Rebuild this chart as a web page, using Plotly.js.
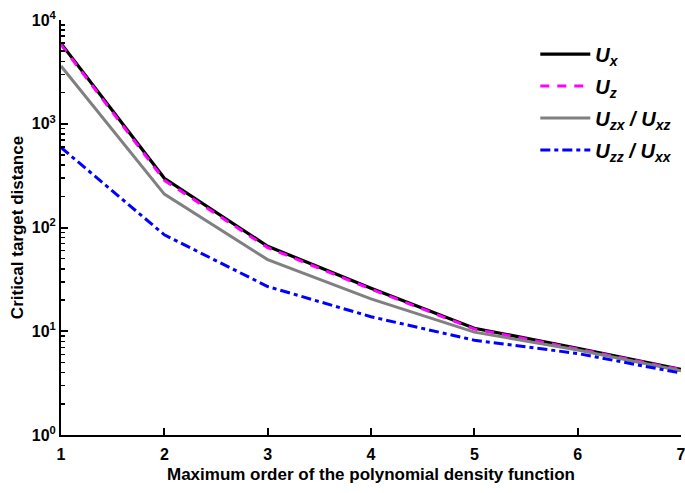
<!DOCTYPE html>
<html>
<head>
<meta charset="utf-8">
<script src="https://cdn.plot.ly/plotly-3.0.1.min.js"></script>
<style>html,body{margin:0;padding:0;background:#fff;}#chart{width:685px;height:493px;}</style>
</head>
<body>
<div id="chart"></div>
<script>
var orders = [1, 2, 3, 4, 5, 6, 7];
var Ux   = [5950, 298, 66, 26, 10.7, 6.85, 4.3];
var Uz   = [5800, 285, 64, 25.5, 10.5, 6.75, 4.25];
var Uzx  = [3600, 210, 49, 20.5, 9.8, 6.6, 4.15];
var Uzz  = [590, 85, 27, 13.8, 8.2, 6.1, 3.95];
var yTickVals = [1, 10, 100, 1000, 10000];
var yTickText = ['10<sup>0</sup>', '10<sup>1</sup>', '10<sup>2</sup>', '10<sup>3</sup>', '10<sup>4</sup>'];
var names = ['<i>U<sub>x</sub></i>', '<i>U<sub>z</sub></i>', '<i>U<sub>zx</sub> / U<sub>xz</sub></i>', '<i>U<sub>zz</sub> / U<sub>xx</sub></i>'];

var F = 'Liberation Sans, Arial, sans-serif';
var traces = [
  {x: orders, y: Ux, name: names[0], legendgroup: 'a', mode: 'lines', line: {color: '#000000', width: 3.2}},
  {x: orders, y: Uz, name: names[1], legendgroup: 'b', mode: 'lines', line: {color: '#FF00FF', width: 3, dash: '9px,8px'}},
  {x: orders, y: Uzx, name: names[2], legendgroup: 'c', mode: 'lines', line: {color: '#808080', width: 3}},
  {x: orders, y: Uzz, name: names[3], legendgroup: 'd', mode: 'lines', line: {color: '#0000FF', width: 3, dash: '10px,4px,4px,4px'}}
];
var layout = {
  width: 685, height: 493,
  margin: {l: 61, r: 4, t: 20, b: 58},
  paper_bgcolor: '#fff', plot_bgcolor: '#fff',
  font: {family: F, color: '#000', size: 15, weight: 'bold'},
  showlegend: true,
  legend: {x: 0.765, y: 0.965, xanchor: 'left', yanchor: 'top', itemwidth: 50, traceorder: 'grouped', tracegroupgap: 3,
           font: {size: 20, family: F, weight: 'bold'}, bgcolor: 'rgba(0,0,0,0)'},
  xaxis: {
    range: [1, 7], tickvals: orders, ticks: 'inside', ticklen: 7, tickwidth: 2, tickcolor: '#000',
    showline: true, linewidth: 2, linecolor: '#000', showgrid: false, zeroline: false,
    ticklabeloverflow: 'allow', ticklabelstandoff: 4,
    tickfont: {size: 16, family: F, weight: 'bold'},
    title: {text: 'Maximum order of the polynomial density function', font: {size: 17, family: F, weight: 'bold'}, standoff: 6}
  },
  yaxis: {
    type: 'log', range: [0, 4], tickvals: yTickVals, ticktext: yTickText, ticks: 'inside', ticklen: 7, tickwidth: 2, tickcolor: '#000',
    showline: true, linewidth: 2, linecolor: '#000', showgrid: false, zeroline: false,
    tickfont: {size: 16, family: F, weight: 'bold'},
    minor: {ticks: 'inside', ticklen: 4, tickwidth: 1.5, tickcolor: '#000', dtick: 'D1', showgrid: false},
    title: {text: 'Critical target distance', font: {size: 17, family: F, weight: 'bold'}, standoff: 4}
  }
};
Plotly.newPlot('chart', traces, layout, {staticPlot: true, displayModeBar: false});
</script>
</body>
</html>
